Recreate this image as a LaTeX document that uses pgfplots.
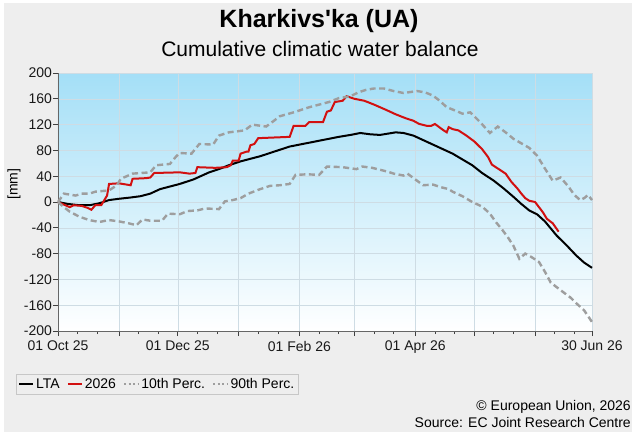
\documentclass[border=0pt]{standalone}
\usepackage{pgfplots}
\pgfplotsset{compat=1.18}
\usepackage{fontspec}
\setmainfont{Liberation Sans}
\definecolor{bgc}{RGB}{238,238,238}
\definecolor{skyc}{RGB}{164,223,247}
\definecolor{redc}{RGB}{210,16,16}
\definecolor{pc}{RGB}{158,158,158}
\definecolor{gridc}{RGB}{206,220,228}
\begin{document}
\begin{tikzpicture}
\fill[white] (0pt,0pt) rectangle (637pt,-432pt);
\fill[bgc] (4pt,-3pt) rectangle (632pt,-432pt);
\node[font=\bfseries\fontsize{25}{28}\selectfont] at (319pt,-21pt) {Kharkivs\textquotesingle ka (UA)};
\node[font=\fontsize{21}{24}\selectfont] at (320pt,-49pt) {Cumulative climatic water balance};
\node[rotate=90, font=\fontsize{14}{16}\selectfont] at (14pt,-184pt) {[mm]};
\node[anchor=east, font=\fontsize{14}{16}\selectfont, inner sep=0pt] at (631pt,-407pt) {© European Union, 2026};
\node[anchor=east, font=\fontsize{14}{16}\selectfont, inner sep=0pt] at (631pt,-422pt) {Source: EC Joint Research Centre};
\begin{axis}[
 at={(58pt,-331pt)}, anchor=south west,
 width=534pt, height=258pt, scale only axis,
 xmin=0, xmax=272, ymin=-200, ymax=200,
 axis x line*=bottom, axis y line*=left,
 axis background/.style={shade, top color=skyc, bottom color=white},
 axis line style={black!60, line width=0.8pt},
 xtick={0,31,61,92,123,151,182,212,243,272},
 xticklabels={01 Oct 25,,01 Dec 25,,01 Feb 26,,01 Apr 26,,,30 Jun 26},
 minor xtick={10,20,41,51,71,81,102,112,133,143,161,171,192,202,222,232,253,263},
 ytick={-200,-160,...,200},
 tick align=outside,
 major tick length=5pt, minor tick length=3pt,
 tick style={black!75, line width=0.7pt},
 xmajorgrids, ymajorgrids,
 major grid style={gridc, line width=0.5pt},
 /pgf/number format/assume math mode=true,
 ticklabel style={font=\fontsize{14}{16}\selectfont, text=black!90},
 xticklabel style={yshift=-1.5pt},
 yticklabel style={xshift=2.5pt},
 legend style={at={(-0.0787,-0.1667)}, anchor=north west, draw=black!22, fill=bgc,
   font=\fontsize{14}{16}\selectfont, inner xsep=2pt, inner ysep=2pt,
   /tikz/every even column/.append style={column sep=5pt}},
 legend columns=4,
 legend cell align=left,
 legend image code/.code={\draw[#1] (0pt,0pt) -- (14pt,0pt);},
 clip=false,
]
\addplot[black, line width=2pt] coordinates {
(0,0) (5,-3) (11,-5) (16,-5) (21,-2) (26,3) (31,5) (37,7) (42,9) (47,13) (52,20) (57,24) (62,28) (69,35) (77,46) (82,51) (87,57) (93,63) (98,67) (103,71) (108,76) (113,81) (118,86) (123,89) (128,92) (133,95) (138,98) (143,101) (149,104) (154,107) (159,105) (164,104) (168,106) (172,108) (176,107) (181,103) (186,96) (191,89) (196,82) (201,75) (206,66) (211,57) (216,45) (222,33) (227,21) (232,8) (236,-3) (240,-13) (244,-19) (248,-30) (254,-52) (259,-67) (264,-83) (268,-94) (272,-102)
};
\addlegendentry{LTA}
\addplot[redc, line width=2pt] coordinates {
(0,0) (3,-4) (6,-8) (8,-5) (12,-6) (15,-9) (17,-12) (19,-5) (22,-5) (24,5) (25,10) (26,28) (31,29) (37,26) (38,36) (45,37) (47,38) (49,45) (62,46) (67,44) (70,45) (71,54) (80,53) (86,54) (88,57) (89,64) (92,64) (93,75) (96,78) (97,78) (98,88) (100,90) (102,99) (110,100) (118,101) (120,118) (126,118) (128,124) (135,124) (137,140) (139,142) (141,155) (145,157) (147,164) (151,160) (156,157) (161,151) (167,143) (172,136) (177,130) (181,126) (184,121) (188,118) (190,118) (192,121) (196,112) (198,108) (199,116) (201,113) (204,111) (208,103) (212,94) (216,82) (219,70) (221,58) (224,52) (226,48) (228,44) (231,31) (234,21) (236,13) (238,6) (240,2) (243,0) (245,-8) (247,-16) (249,-26) (252,-33) (255,-46)
};
\addlegendentry{2026}
\addplot[pc, line width=2.4pt, dash pattern=on 6pt off 3.5pt, forget plot] coordinates {
(0,0) (3,-8) (6,-15) (11,-23) (16,-28) (21,-31) (26,-28) (31,-30) (36,-33) (40,-36) (43,-27) (47,-29) (53,-29) (56,-18) (62,-19) (66,-14) (71,-13) (75,-10) (82,-11) (85,1) (89,3) (93,6) (97,13) (103,20) (108,25) (113,26) (118,28) (121,42) (127,43) (133,42) (137,55) (145,54) (152,51) (155,55) (160,53) (164,50) (168,47) (171,44) (176,41) (178,44) (182,35) (186,26) (191,27) (195,23) (199,20) (201,16) (206,9) (211,0) (216,-7) (220,-18) (223,-31) (226,-42) (229,-54) (232,-68) (235,-88) (238,-80) (241,-85) (245,-93) (248,-108) (251,-125) (254,-132) (257,-139) (261,-148) (264,-157) (268,-168) (272,-186)
};
\addlegendimage{pc, line width=2.4pt, dash pattern=on 2pt off 2.5pt}
\addlegendentry{10th Perc.}
\addplot[pc, line width=2.4pt, dash pattern=on 6pt off 3.5pt, forget plot] coordinates {
(0,0) (3,13) (9,10) (12,13) (16,13) (19,16) (26,18) (30,26) (32,36) (38,44) (47,46) (50,57) (57,59) (60,70) (62,76) (68,75) (72,90) (79,89) (82,103) (87,108) (95,111) (99,120) (106,117) (110,126) (113,133) (120,139) (128,147) (133,151) (138,155) (143,161) (149,164) (153,170) (157,174) (161,176) (166,176) (171,172) (176,169) (183,172) (187,170) (191,165) (194,158) (198,147) (203,141) (206,137) (210,139) (215,124) (220,107) (224,117) (228,108) (232,98) (236,91) (240,84) (244,72) (248,52) (252,33) (256,38) (260,24) (263,11) (266,3) (268,6) (270,11) (272,3)
};
\addlegendimage{pc, line width=2.4pt, dash pattern=on 2pt off 2.5pt}
\addlegendentry{90th Perc.}
\end{axis}
\end{tikzpicture}
\end{document}
